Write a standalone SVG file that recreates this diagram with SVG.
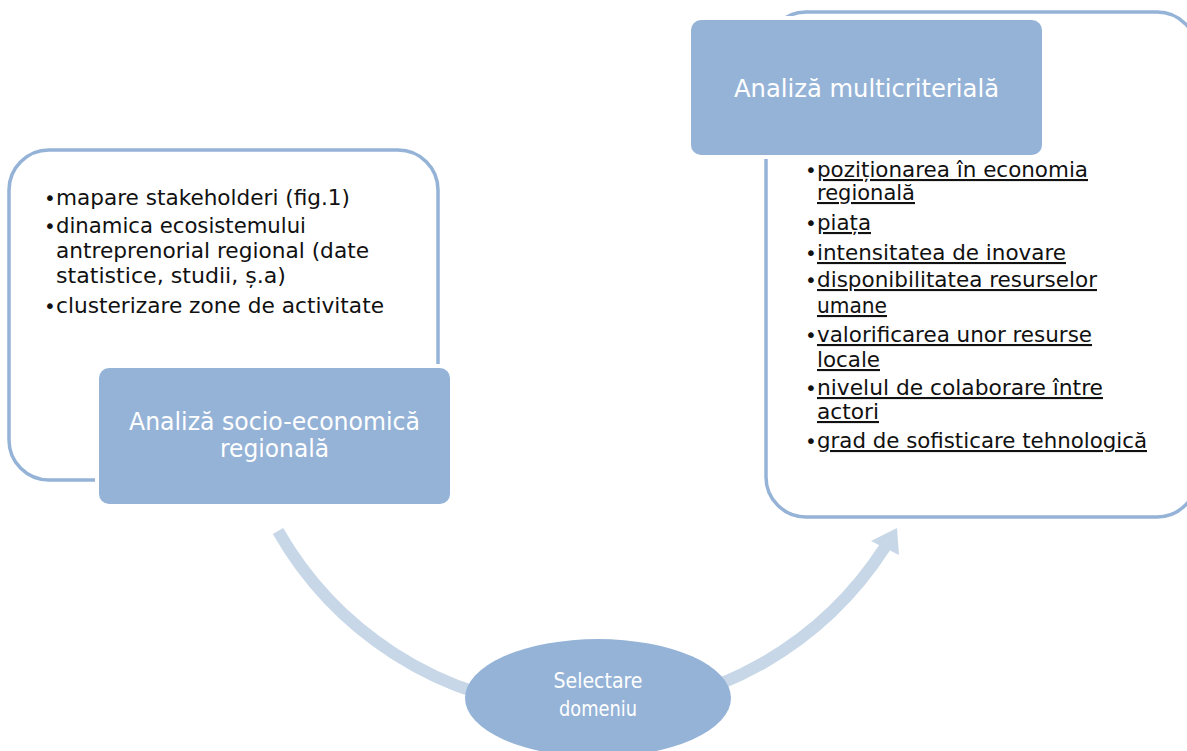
<svg xmlns="http://www.w3.org/2000/svg" width="1187" height="751" viewBox="0 0 1187 751">
<style>
.outline{fill:none;stroke:#95b3d7;stroke-width:3.5}
.fillbox{fill:#95b3d7}
.gap{fill:#ffffff}
.list{font-family:"DejaVu Sans",sans-serif;font-size:21px;fill:#111111}
.bul{font-family:"DejaVu Sans",sans-serif;font-size:20px;fill:#111111}
.ul{text-decoration:underline}
.title{font-family:"DejaVu Sans",sans-serif;font-size:25px;fill:#ffffff;text-anchor:middle}
.small{font-family:"DejaVu Sans Condensed","DejaVu Sans",sans-serif;font-size:21px;fill:#ffffff;text-anchor:middle}
.arc{fill:none;stroke:#c7d7e7;stroke-width:12}
.head{fill:#c7d7e7}
</style>
<rect width="1187" height="751" fill="#ffffff"/>
<g id="connectors">
<path class="arc" d="M 278 531 A 355 355 0 0 0 885 547"/>
<polygon class="head" points="897,528 871,541 899,555"/>
</g>
<g id="node-socio">
<rect class="outline" x="9" y="150" width="429" height="330" rx="40"/>
<text class="bul" x="44" y="205">•</text><text class="list" x="56" y="205" textLength="294" lengthAdjust="spacingAndGlyphs">mapare stakeholderi (fig.1)</text>
<text class="bul" x="44" y="233">•</text><text class="list" x="56" y="233" textLength="250" lengthAdjust="spacingAndGlyphs">dinamica ecosistemului</text>
<text class="list" x="56" y="258" textLength="313" lengthAdjust="spacingAndGlyphs">antreprenorial regional (date</text>
<text class="list" x="56" y="283" textLength="230" lengthAdjust="spacingAndGlyphs">statistice, studii, ș.a)</text>
<text class="bul" x="44" y="313">•</text><text class="list" x="56" y="313" textLength="328" lengthAdjust="spacingAndGlyphs">clusterizare zone de activitate</text>
<rect class="gap" x="95" y="364" width="359" height="144" rx="12"/>
<rect class="fillbox" x="99" y="368" width="351" height="136" rx="10"/>
<text class="title" x="274.5" y="430" textLength="291" lengthAdjust="spacingAndGlyphs">Analiză socio-economică</text>
<text class="title" x="274.5" y="457" textLength="109" lengthAdjust="spacingAndGlyphs">regională</text>
</g>
<g id="node-multi">
<rect class="outline" x="766" y="12" width="431" height="505" rx="40"/>
<text class="bul" x="805" y="177">•</text><text class="list ul" x="817" y="177" textLength="271" lengthAdjust="spacingAndGlyphs">poziționarea în economia</text>
<text class="list ul" x="817" y="200" textLength="98" lengthAdjust="spacingAndGlyphs">regională</text>
<text class="bul" x="805" y="230">•</text><text class="list ul" x="817" y="230" textLength="54" lengthAdjust="spacingAndGlyphs">piața</text>
<text class="bul" x="805" y="260">•</text><text class="list ul" x="817" y="260" textLength="249" lengthAdjust="spacingAndGlyphs">intensitatea de inovare</text>
<text class="bul" x="805" y="287">•</text><text class="list ul" x="817" y="287" textLength="280" lengthAdjust="spacingAndGlyphs">disponibilitatea resurselor</text>
<text class="list ul" x="817" y="313" textLength="70" lengthAdjust="spacingAndGlyphs">umane</text>
<text class="bul" x="805" y="342">•</text><text class="list ul" x="817" y="342" textLength="275" lengthAdjust="spacingAndGlyphs">valorificarea unor resurse</text>
<text class="list ul" x="817" y="367" textLength="63" lengthAdjust="spacingAndGlyphs">locale</text>
<text class="bul" x="805" y="395">•</text><text class="list ul" x="817" y="395" textLength="286" lengthAdjust="spacingAndGlyphs">nivelul de colaborare între</text>
<text class="list ul" x="817" y="419" textLength="62" lengthAdjust="spacingAndGlyphs">actori</text>
<text class="bul" x="805" y="448">•</text><text class="list ul" x="817" y="448" textLength="330" lengthAdjust="spacingAndGlyphs">grad de sofisticare tehnologică</text>
<rect class="gap" x="687" y="16" width="359" height="143" rx="12"/>
<rect class="fillbox" x="691" y="20" width="351" height="135" rx="10"/>
<text class="title" x="866.5" y="97" textLength="265" lengthAdjust="spacingAndGlyphs">Analiză multicriterială</text>
</g>
<g id="node-select">
<ellipse class="fillbox" cx="598" cy="698" rx="133" ry="59"/>
<text class="small" x="598" y="688" textLength="89" lengthAdjust="spacingAndGlyphs">Selectare</text>
<text class="small" x="598" y="716" textLength="78" lengthAdjust="spacingAndGlyphs">domeniu</text>
</g>
</svg>
